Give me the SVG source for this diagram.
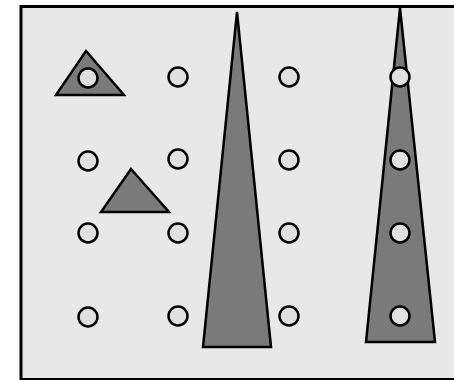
<svg xmlns="http://www.w3.org/2000/svg" width="454" height="380" viewBox="0 0 454 380">
<style>
.tri{fill:#7a7a7a;stroke:#000;stroke-width:2.5;stroke-linejoin:miter}
.c{fill:#e0e0e0;stroke:#000;stroke-width:2.5}
</style>
<rect x="0" y="0" width="454" height="380" fill="#fff"/>
<rect x="21" y="6.5" width="440" height="373" fill="#e8e8e8" stroke="#000" stroke-width="3"/>
<g id="tri1"><polygon class="tri" points="86,51 124,95 56,95"/></g>
<g id="tri2"><polygon class="tri" points="131,169 169,212 101,212"/></g>
<g id="tall1"><polygon class="tri" points="237,12 271,347 203,347"/></g>
<g id="tall2"><polygon class="tri" points="400,8 435,342 366,342"/></g>
<g id="circles">
<circle class="c" cx="88" cy="78" r="9.5"/>
<circle class="c" cx="178" cy="77" r="9.5"/>
<circle class="c" cx="289" cy="77" r="9.5"/>
<circle class="c" cx="400" cy="77" r="9.5"/>
<circle class="c" cx="88" cy="161" r="9.5"/>
<circle class="c" cx="178" cy="159" r="9.5"/>
<circle class="c" cx="289" cy="160" r="9.5"/>
<circle class="c" cx="400" cy="160" r="9.5"/>
<circle class="c" cx="88" cy="233" r="9.5"/>
<circle class="c" cx="178" cy="233" r="9.5"/>
<circle class="c" cx="289" cy="233" r="9.5"/>
<circle class="c" cx="400" cy="233" r="9.5"/>
<circle class="c" cx="88" cy="317" r="9.5"/>
<circle class="c" cx="178" cy="316" r="9.5"/>
<circle class="c" cx="289" cy="316" r="9.5"/>
<circle class="c" cx="400" cy="316" r="9.5"/>
</g>
</svg>
